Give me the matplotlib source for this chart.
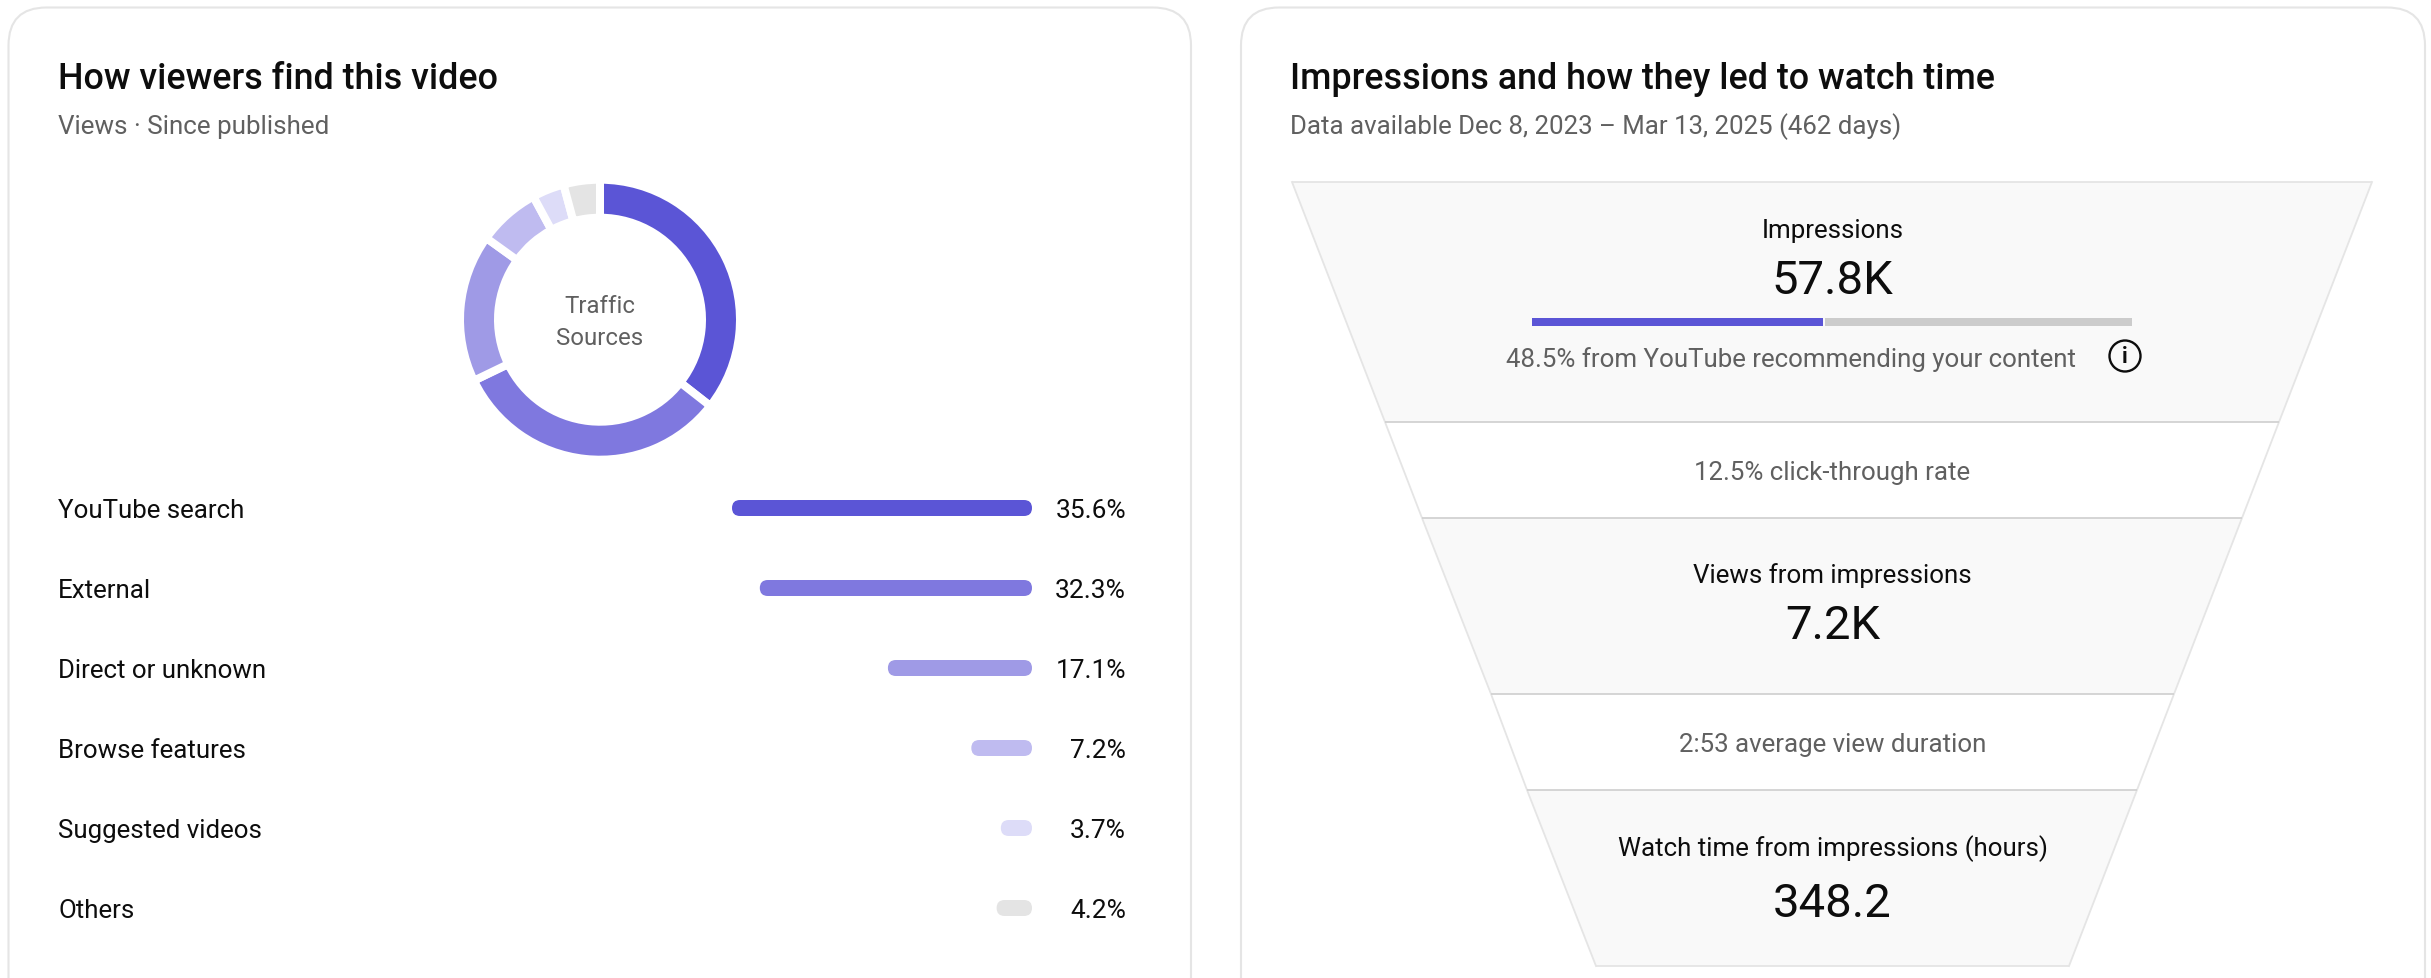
import matplotlib
matplotlib.use("Agg")
import matplotlib.pyplot as plt
from matplotlib.patches import Circle, FancyBboxPatch, Polygon

W, H = 2431, 979

plt.rcParams["font.family"] = ["Roboto", "DejaVu Sans"]

# traffic sources
sources = ["YouTube search", "External", "Direct or unknown", "Browse features", "Suggested videos", "Others"]
shares = [35.6, 32.3, 17.1, 7.2, 3.7, 4.2]
source_colors = ["#5b55d6", "#7f78df", "#9f9ae6", "#bfbbf0", "#dddcf8", "#e4e4e4"]

# funnel
recommended_share = 48.5
impressions = "57.8K"
ctr = "12.5% click-through rate"
views = "7.2K"
duration = "2:53 average view duration"
watch_hours = "348.2"

DARK = "#0d0d0d"
GREY = "#606060"
LABEL = 18.6
BIG = 34


def px_axes(fig, x0, y0, x1, y1):
    # axes placed by image pixels (y from top)
    return fig.add_axes([x0 / W, 1 - y1 / H, (x1 - x0) / W, (y1 - y0) / H])


def put(x, y, s, size, color=DARK, ha="left", weight="normal"):
    fig.text(x / W, 1 - y / H, s, fontsize=size, color=color, ha=ha, va="baseline", fontweight=weight)


fig = plt.figure(figsize=(W / 100, H / 100), dpi=100, facecolor="white")

# page layer: cards and funnel shape, in pixels
page = fig.add_axes([0, 0, 1, 1])
page.set_xlim(0, W)
page.set_ylim(H, 0)
page.axis("off")

for x0, x1 in [(8.5, 1191), (1241, 2425)]:
    page.add_patch(FancyBboxPatch((x0, 8.5), x1 - x0, 1100, boxstyle="round,pad=0,rounding_size=38",
                                  fc="white", ec="#e5e5e5", lw=1.5))

levels = [183, 423, 519, 695, 791, 967]
lefts = [1292, 1385, 1422, 1491, 1527, 1596]
rights = [2372, 2279, 2242, 2174, 2137, 2069]
for i in range(5):
    fill = "#f9f9f9" if i % 2 == 0 else "white"
    page.add_patch(Polygon([(lefts[i], levels[i]), (rights[i], levels[i]),
                            (rights[i + 1], levels[i + 1]), (lefts[i + 1], levels[i + 1])],
                           closed=True, fc=fill, ec="none"))
page.plot(lefts, levels, color="#e5e5e5", lw=1.3)
page.plot(rights, levels, color="#e5e5e5", lw=1.3)
for i, y in enumerate(levels):
    edge = "#e5e5e5" if i in (0, 5) else "#d2d2d2"
    page.plot([lefts[i], rights[i]], [y, y], color=edge, lw=1.3, solid_capstyle="butt")

# info icon
page.add_patch(Circle((2125, 357), 15.5, fc="none", ec=DARK, lw=1.7))
page.text(2125, 357.5, "i", fontsize=15.5, color=DARK, ha="center", va="center", fontweight="bold")

# donut (radius includes the white stroke that makes the gaps)
donut = px_axes(fig, 600 - 140, 320.7 - 140, 600 + 140, 320.7 + 140)
donut.pie(shares, colors=source_colors, startangle=90, counterclock=False, radius=1,
          wedgeprops={"width": 38 / 140, "edgecolor": "white", "linewidth": 5.76})
donut.set_xlim(-1, 1)
donut.set_ylim(-1, 1)
donut.set_aspect("equal")
donut.patch.set_alpha(0)

put(600, 312.7, "Traffic", 17.3, GREY, ha="center")
put(600, 345, "Sources", 17.3, GREY, ha="center")

# horizontal bars, growing leftwards from the right edge
bars = px_axes(fig, 732, 469, 1032, 949)
bars.set_xlim(max(shares), 0)
bars.set_ylim(5.5, -0.5)
bars.axis("off")
bar_px = 300 / max(shares)
for i, (v, c) in enumerate(zip(shares, source_colors)):
    bars.add_patch(FancyBboxPatch((0, i - 0.1), v, 0.2,
                                  boxstyle=f"round,pad=0,rounding_size={8 / bar_px}",
                                  mutation_aspect=(1 / 80) * bar_px, fc=c, ec="none"))
    put(58, 518.3 + i * 80, sources[i], LABEL)
    put(1126, 518.3 + i * 80, f"{v}%", 18.9, ha="right")

# impressions split bar
split = px_axes(fig, 1532, 319, 2132, 327)
split.set_xlim(0, 100)
split.set_ylim(0, 1)
split.axis("off")
split.barh(0.5, recommended_share, height=1, color="#5b55d6")
split.barh(0.5, 100 - recommended_share - 0.4, left=recommended_share + 0.4, height=1, color="#cccccc")

# titles
put(58, 89, "How viewers find this video", 25.85, weight="medium")
put(58, 134, "Views · Since published", 18.7, GREY)
put(1290, 89, "Impressions and how they led to watch time", 25.85, weight="medium")
put(1290, 134, "Data available Dec 8, 2023 – Mar 13, 2025 (462 days)", 18.6, GREY)

# funnel text
cx = 1832.5
put(cx, 238, "Impressions", LABEL, ha="center")
put(cx, 294, impressions, BIG, ha="center")
put(1506.5, 367, f"{recommended_share}% from YouTube recommending your content", LABEL, GREY)
put(cx, 480, ctr, LABEL, GREY, ha="center")
put(cx, 583, "Views from impressions", LABEL, ha="center")
put(cx, 639, views, BIG, ha="center")
put(cx, 752, duration, LABEL, GREY, ha="center")
put(cx, 856, "Watch time from impressions (hours)", LABEL, ha="center")
put(cx, 917, watch_hours, BIG, ha="center")

fig.savefig("out.png", dpi=100)
